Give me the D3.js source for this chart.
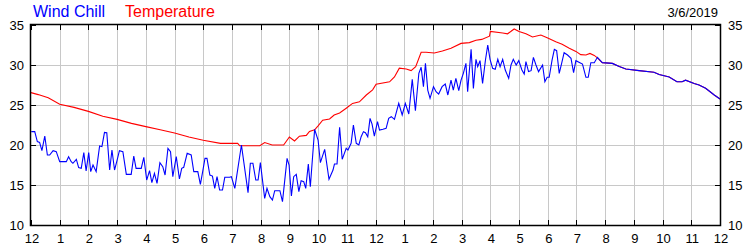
<!DOCTYPE html>
<html>
<head>
<meta charset="utf-8">
<script src="https://cdn.jsdelivr.net/npm/d3@7"></script>
<style>
  body { margin: 0; background: #fff; }
  text { font-family: "Liberation Sans", Arial, sans-serif; }
</style>
</head>
<body>
<div id="chart"></div>
<script>
// hour labels along the bottom (midnight to midnight)
const hourLabels = ["12","1","2","3","4","5","6","7","8","9","10","11","12","1","2","3","4","5","6","7","8","9","10","11","12"]
const yTicks = [10, 15, 20, 25, 30, 35]
const dateLabel = "3/6/2019"

// shared tail where both readings are the same
const tailHours = [19.90, 20.25, 20.49, 20.72, 21.18, 21.70, 21.88, 22.23, 22.50, 22.68, 22.80, 23.10, 23.27, 23.50, 23.80, 24.00]
const tailValues = [30.3, 30.2, 29.8, 29.5, 29.3, 29.1, 28.8, 28.5, 27.9, 27.9, 28.1, 27.7, 27.5, 27.1, 26.25, 25.75]

// temperature (hour of day, degrees)
const tempHours = [0, 0.25, 0.6, 1.0, 1.5, 2.0, 2.5, 3.0, 3.5, 4.0, 4.5, 5.0, 5.5, 6.0, 6.6, 7.2, 7.27, 7.97, 8.14, 8.4, 8.8,
  9.0, 9.18, 9.35, 9.59, 9.7, 9.88, 10.0, 10.16, 10.4, 10.56, 10.75, 10.98, 11.2, 11.44, 11.68, 11.9, 12.02, 12.49, 12.66, 12.83,
  13.07, 13.24, 13.4, 13.59, 13.76, 14.05, 14.33, 14.63, 14.98, 15.27, 15.5, 15.7, 15.97, 16.0, 16.43, 16.6, 16.83, 17.0, 17.24,
  17.47, 17.76, 17.98, 18.28, 18.5, 18.75, 18.98, 19.15, 19.33, 19.47, 19.62, 19.73].concat(tailHours)
const tempValues = [26.55, 26.3, 25.9, 25.1, 24.7, 24.2, 23.6, 23.2, 22.7, 22.3, 21.9, 21.5, 21.0, 20.6, 20.2, 20.2, 19.9, 19.9, 20.3, 20.0, 20.0,
  21.0, 20.5, 21.1, 21.2, 21.7, 21.9, 22.4, 23.1, 23.25, 23.75, 24.0, 24.6, 25.2, 25.4, 26.25, 26.9, 27.6, 27.9, 28.5, 29.6,
  29.5, 29.3, 29.8, 31.6, 31.6, 31.5, 31.75, 32.1, 32.7, 32.8, 33.1, 33.2, 33.6, 34.2, 34.0, 33.9, 34.5, 34.2, 33.9,
  33.5, 33.75, 33.4, 32.9, 32.6, 32.1, 31.7, 31.3, 31.25, 31.45, 31.2, 30.9].concat(tailValues)

// wind chill (hour of day, degrees)
const chillHours = [0.01, 0.13, 0.22, 0.30, 0.38, 0.48, 0.57, 0.65, 0.77, 0.88, 1.00, 1.23, 1.31, 1.40, 1.46, 1.58, 1.66, 1.75, 1.84, 1.92,
  2.01, 2.08, 2.16, 2.27, 2.39, 2.47, 2.56, 2.64, 2.74, 2.82, 2.91, 3.00, 3.08, 3.20, 3.32, 3.49, 3.58, 3.66, 3.84, 3.93,
  4.03, 4.13, 4.21, 4.30, 4.39, 4.49, 4.59, 4.67, 4.77, 4.86, 4.94, 5.06, 5.17, 5.25, 5.32, 5.44, 5.58, 5.67, 5.81, 5.90,
  5.98, 6.06, 6.13, 6.23, 6.32, 6.40, 6.48, 6.57, 6.67, 6.75, 6.92, 6.98, 7.10, 7.33, 7.56, 7.64, 7.73, 7.83, 7.91, 7.99,
  8.14, 8.22, 8.32, 8.41, 8.49, 8.67, 8.76, 8.92, 8.99, 9.07, 9.15, 9.24, 9.33, 9.41, 9.50, 9.57, 9.66, 9.73, 9.88, 10.00,
  10.08, 10.23, 10.38, 10.52, 10.57, 10.66, 10.75, 10.84, 10.98, 11.04, 11.15, 11.23, 11.33, 11.42, 11.50, 11.58, 11.65, 11.73, 11.81, 11.88,
  11.96, 12.07, 12.14, 12.26, 12.37, 12.46, 12.55, 12.66, 12.81, 12.93, 13.04, 13.16, 13.28, 13.39, 13.51, 13.59, 13.67, 13.74, 13.82, 13.90,
  14.02, 14.11, 14.20, 14.32, 14.43, 14.52, 14.63, 14.71, 14.80, 14.90, 14.98, 15.06, 15.15, 15.21, 15.33, 15.41, 15.50, 15.56, 15.64, 15.73,
  15.83, 15.91, 15.99, 16.08, 16.17, 16.26, 16.34, 16.43, 16.52, 16.64, 16.72, 16.80, 16.90, 16.99, 17.10, 17.18, 17.24, 17.33, 17.42, 17.50,
  17.59, 17.68, 17.82, 17.90, 17.98, 18.05, 18.15, 18.23, 18.31, 18.40, 18.49, 18.57, 18.69, 18.81, 18.90, 18.98, 19.12, 19.21, 19.33, 19.41,
  19.50, 19.62, 19.73].concat(tailHours)
const chillValues = [21.67, 21.67, 20.42, 20.33, 19.29, 21.12, 18.75, 18.75, 19.29, 19.17, 17.92, 17.92, 18.54, 17.92, 17.71, 18.21, 17.17, 17.08, 19.04, 16.75,
  19.04, 16.67, 17.5, 16.67, 19.87, 19.79, 21.58, 21.54, 16.87, 19.37, 16.87, 18.12, 19.29, 19.17, 16.33, 16.33, 18.62, 17.08, 17.08, 18.46,
  15.62, 16.79, 15.29, 16.46, 15.21, 17.79, 17.29, 16.25, 19.58, 19.17, 16.04, 18.54, 15.75, 17.08, 17.21, 18.96, 18.75, 16.67, 16.67, 15.08,
  16.67, 18.33, 18.33, 16.25, 16.12, 14.58, 16.04, 14.37, 14.37, 15.96, 15.96, 16.04, 14.58, 20.0, 14.04, 17.71, 17.71, 15.62, 15.62, 17.79,
  13.33, 14.58, 13.54, 13.12, 14.29, 14.29, 12.92, 18.33, 17.5, 13.62, 16.04, 16.33, 14.17, 15.54, 15.42, 14.58, 17.62, 14.79, 21.96, 20.62,
  17.79, 19.46, 15.71, 16.87, 17.62, 17.62, 22.21, 18.21, 19.58, 19.37, 20.21, 22.5, 20.21, 20.0, 21.04, 21.67, 21.54, 21.04, 23.33, 22.62,
  21.12, 22.92, 21.87, 21.96, 22.08, 23.33, 23.54, 23.21, 25.21, 23.75, 25.21, 23.87, 28.21, 24.29, 28.96, 29.71, 27.29, 30.21, 26.87, 25.83,
  27.29, 26.67, 26.37, 27.29, 27.62, 26.25, 28.12, 26.87, 28.33, 26.79, 28.12, 28.96, 30.21, 26.67, 31.96, 27.08, 30.71, 29.79, 30.54, 27.71,
  30.62, 32.5, 30.71, 29.58, 29.46, 30.71, 29.79, 30.71, 29.37, 28.33, 30.0, 30.71, 30.0, 30.54, 29.37, 28.87, 30.42, 29.17, 29.29, 30.96,
  30.0, 29.17, 30.0, 27.92, 28.46, 28.46, 30.62, 31.96, 31.79, 28.96, 30.29, 31.54, 31.25, 30.83, 29.04, 30.54, 30.29, 30.12, 28.46, 28.46,
  30.29, 30.29, 30.96].concat(tailValues)

const W = 750, H = 250
const margin = {top: 25, right: 30, bottom: 25, left: 31}
const plotW = 720 - margin.left
const plotH = 225 - margin.top

const svg = d3.select("#chart").append("svg")
    .attr("width", W)
    .attr("height", H)

const x = d3.scaleLinear().domain([0, 24]).range([margin.left, margin.left + plotW])
const y = d3.scaleLinear().domain([10, 35]).range([margin.top + plotH, margin.top])

const hours = d3.range(0, 25)

// grid
svg.append("g").selectAll("line.vgrid")
    .data(hours.slice(1, 24))
    .enter().append("line")
    .attr("x1", d => Math.round(x(d)) + 0.5).attr("x2", d => Math.round(x(d)) + 0.5)
    .attr("y1", y(35)).attr("y2", y(10))
    .attr("stroke", "#c8c8c8")
svg.append("g").selectAll("line.hgrid")
    .data([15, 20, 25, 30])
    .enter().append("line")
    .attr("x1", x(0)).attr("x2", x(24))
    .attr("y1", d => Math.round(y(d)) + 0.5).attr("y2", d => Math.round(y(d)) + 0.5)
    .attr("stroke", "#c8c8c8")

// tick marks (inward)
const tickG = svg.append("g").attr("stroke", "#000")
hours.forEach(h => {
    const px = Math.round(x(h)) + 0.5
    tickG.append("line").attr("x1", px).attr("x2", px).attr("y1", y(35)).attr("y2", y(35) + 5)
    tickG.append("line").attr("x1", px).attr("x2", px).attr("y1", y(10)).attr("y2", y(10) - 5)
})
yTicks.forEach(v => {
    const py = Math.round(y(v)) + 0.5
    tickG.append("line").attr("x1", x(0)).attr("x2", x(0) + 5).attr("y1", py).attr("y2", py)
    tickG.append("line").attr("x1", x(24)).attr("x2", x(24) - 5).attr("y1", py).attr("y2", py)
})

// lines
const line = d3.line()
    .x(d => x(d[0]))
    .y(d => y(d[1]))

svg.append("path")
    .datum(d3.zip(tempHours, tempValues))
    .attr("fill", "none")
    .attr("stroke", "#ff0000")
    .attr("stroke-width", 1.1)
    .attr("d", line)

svg.append("path")
    .datum(d3.zip(chillHours, chillValues))
    .attr("fill", "none")
    .attr("stroke", "#0000ff")
    .attr("stroke-width", 1.1)
    .attr("d", line)

// frame
svg.append("rect")
    .attr("x", x(0) - 0.5).attr("y", y(35) - 0.5)
    .attr("width", plotW + 1).attr("height", plotH + 1)
    .attr("fill", "none")
    .attr("stroke", "#000")
    .attr("stroke-width", 1.5)

// hour labels
svg.append("g").selectAll("text")
    .data(hourLabels)
    .enter().append("text")
    .attr("x", (d, i) => x(i) + 1)
    .attr("y", 243)
    .attr("text-anchor", "middle")
    .attr("font-size", 13)
    .attr("fill", "#000")
    .text(d => d)

// y labels
svg.append("g").selectAll("text")
    .data(yTicks)
    .enter().append("text")
    .attr("x", 24)
    .attr("y", d => y(d) + 5)
    .attr("text-anchor", "end")
    .attr("font-size", 13)
    .text(d => d)
svg.append("g").selectAll("text")
    .data(yTicks)
    .enter().append("text")
    .attr("x", 728)
    .attr("y", d => y(d) + 5)
    .attr("text-anchor", "start")
    .attr("font-size", 13)
    .text(d => d)

// legend + date
svg.append("text").attr("x", 33).attr("y", 17).attr("font-size", 16).attr("fill", "#0000ff").text("Wind Chill")
svg.append("text").attr("x", 125).attr("y", 17).attr("font-size", 16).attr("fill", "#ff0000").text("Temperature")
svg.append("text").attr("x", 718).attr("y", 17).attr("text-anchor", "end").attr("font-size", 13).text(dateLabel)
</script>
</body>
</html>
